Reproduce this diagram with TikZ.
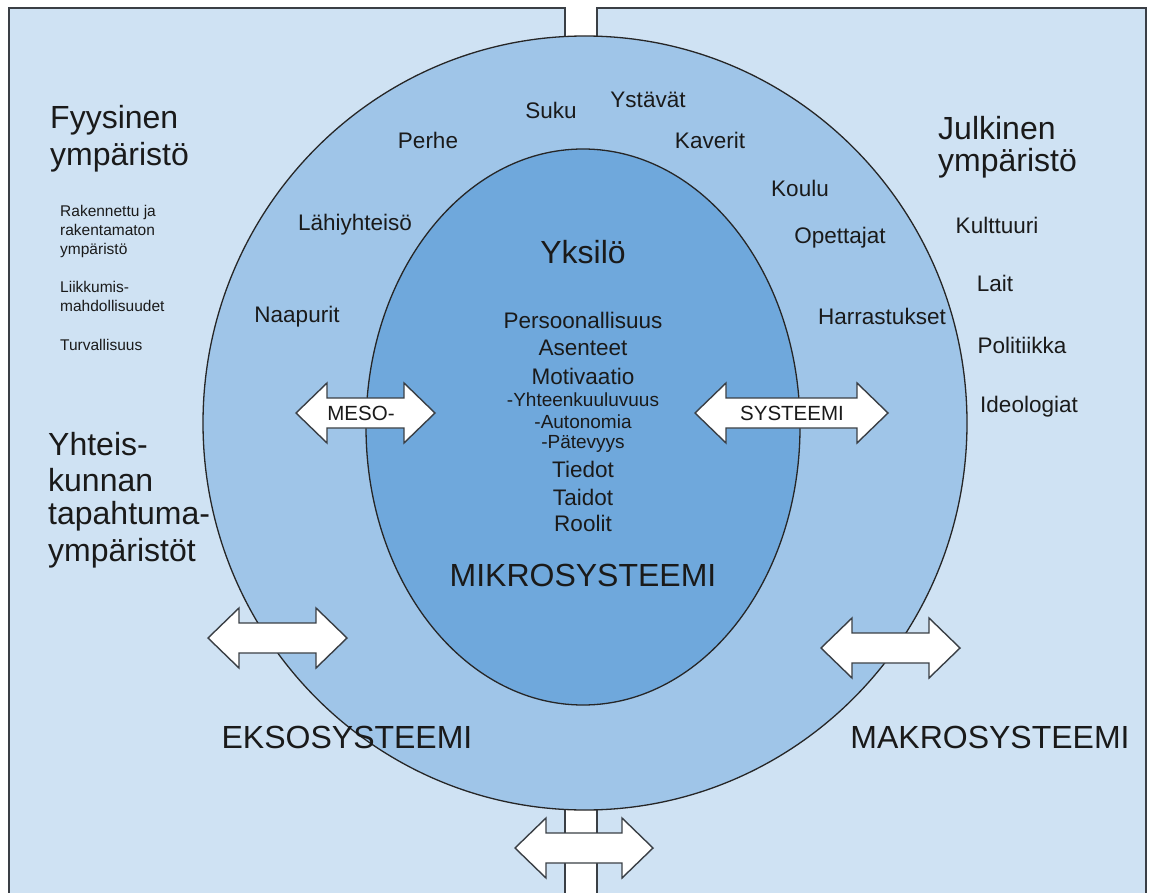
\documentclass[tikz,border=0pt]{standalone}
\usepackage{fontspec}
\setmainfont{Liberation Sans}
\definecolor{rectfill}{HTML}{CFE2F3}
\definecolor{outerfill}{HTML}{9FC5E8}
\definecolor{innerfill}{HTML}{6FA8DC}
\definecolor{edgecol}{HTML}{3A3F45}
\definecolor{txtcol}{HTML}{1A1A1A}
\newcommand\dblarr[3]{%
\draw[arrowst] (#1,#3) -- (#1+31,#3-30) -- (#1+31,#3-15) -- (#2-31,#3-15) -- (#2-31,#3-30) -- (#2,#3) -- (#2-31,#3+30) -- (#2-31,#3+15) -- (#1+31,#3+15) -- (#1+31,#3+30) -- cycle;}
\begin{document}
\begin{tikzpicture}[x=1pt,y=-1pt,
  rectst/.style={fill=rectfill,draw=edgecol,line width=1.5pt},
  outerst/.style={fill=outerfill,draw=black!85,line width=1.3pt},
  innerst/.style={fill=innerfill,draw=black!85,line width=1.3pt},
  arrowst/.style={fill=white,draw=edgecol,line width=1.4pt,line join=miter},
  every node/.style={text=txtcol,inner sep=0pt},
  big/.style={font=\fontsize{32}{36}\selectfont},
  mid/.style={font=\fontsize{22.5}{26}\selectfont},
  sub/.style={font=\fontsize{19}{21}\selectfont},
  small/.style={font=\fontsize{15.5}{19}\selectfont},
  arrtxt/.style={font=\fontsize{20.5}{24}\selectfont}]
\useasboundingbox (0,0) rectangle (1150,893);
\clip (0,0) rectangle (1150,893);
\fill[white] (0,0) rectangle (1150,893);
% background panels
\draw[rectst] (9,8) rectangle (565,930);
\draw[rectst] (597,8) rectangle (1146,930);
% circles
\draw[outerst] (585,423) ellipse [x radius=382, y radius=387];
\draw[innerst] (583,427) ellipse [x radius=217, y radius=278];
% arrows
\dblarr{296}{435}{413}
\dblarr{695}{888}{413}
\dblarr{208}{347}{638}
\dblarr{821}{960}{648}
\dblarr{515}{653}{848}
\node[arrtxt] (meso) at (361,413) {MESO-};
\node[arrtxt] (syst) at (792,413) {SYSTEEMI};
% left panel texts
\node[big,anchor=west] (fyy1) at (50,120) {Fyysinen};
\node[big,anchor=west] (fyy2) at (50,157) {ympäristö};
\node[small,anchor=north west,align=left] (rak) at (60,205) {Rakennettu ja\\rakentamaton\\ympäristö};
\node[small,anchor=north west,align=left] (liik) at (60,281) {Liikkumis-\\mahdollisuudet};
\node[small,anchor=west] (turv) at (60,345) {Turvallisuus};
\node[big,anchor=west] (yht1) at (48,444) {Yhteis-};
\node[big,anchor=west] (yht2) at (48,480) {kunnan};
\node[big,anchor=west] (yht3) at (48,516) {tapahtuma-};
\node[big,anchor=west] (yht4) at (48,553) {ympäristöt};
\node[big] (ekso) at (347,737) {EKSOSYSTEEMI};
% right panel texts
\node[big,anchor=west] (jul1) at (938,128) {Julkinen};
\node[big,anchor=west] (jul2) at (938,163) {ympäristö};
\node[mid] (kult) at (997,225) {Kulttuuri};
\node[mid] (lait) at (995,283) {Lait};
\node[mid] (poli) at (1022,345) {Politiikka};
\node[mid] (ideo) at (1029,407) {Ideologiat};
\node[big] (makro) at (990,737) {MAKROSYSTEEMI};
% outer ring texts
\node[mid] (suku) at (551,110) {Suku};
\node[mid] (ysta) at (648,100) {Ystävät};
\node[mid] (perhe) at (428,140) {Perhe};
\node[mid] (kav) at (710,140) {Kaverit};
\node[mid] (koulu) at (800,188) {Koulu};
\node[mid] (lahi) at (355,225) {Lähiyhteisö};
\node[mid] (opet) at (840,238) {Opettajat};
\node[mid] (naap) at (297,317) {Naapurit};
\node[mid] (harr) at (882,316) {Harrastukset};
% inner texts
\node[big] (yks) at (583,252) {Yksilö};
\node[mid] (pers) at (583,320) {Persoonallisuus};
\node[mid] (asen) at (583,348) {Asenteet};
\node[mid] (moti) at (583,376) {Motivaatio};
\node[sub] (yhteen) at (583,400) {-Yhteenkuuluvuus};
\node[sub] (auto) at (583,422) {-Autonomia};
\node[sub] (pate) at (583,444) {-Pätevyys};
\node[mid] (tied) at (583,469) {Tiedot};
\node[mid] (taid) at (583,497) {Taidot};
\node[mid] (rool) at (583,523) {Roolit};
\node[big] (mikro) at (583,575) {MIKROSYSTEEMI};
\end{tikzpicture}
\end{document}
